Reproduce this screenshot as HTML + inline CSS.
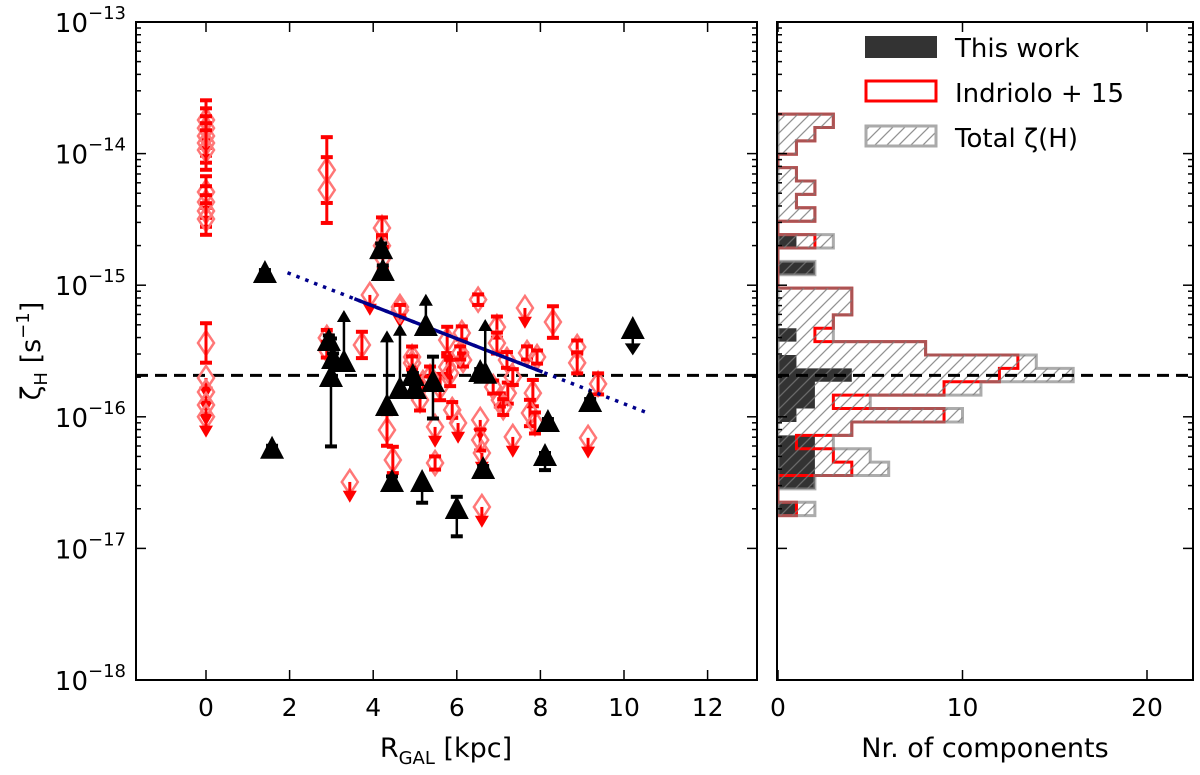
<!DOCTYPE html>
<html><head><meta charset="utf-8"><style>
body{margin:0;background:#fff;}
svg{display:block;font-family:"DejaVu Sans","Liberation Sans",sans-serif;}
</style></head><body>
<svg id="c" width="1200" height="775" viewBox="0 0 1200 775" xmlns="http://www.w3.org/2000/svg">
<defs>
<pattern id="hatch" patternUnits="userSpaceOnUse" width="12" height="12">
<path d="M-3,3 l6,-6 M0,12 l12,-12 M9,15 l6,-6" stroke="#777" stroke-width="1.3" opacity="0.8"/>
</pattern>
</defs>
<g id="left"></g>
<g id="right"></g>
</svg>
<script>
// ---- data ----
const redR=[0,0,0,0,0,0,0,0,0,0,0,0,0,0,2.89,2.89,2.89,2.89,3.73,3.44,4.21,4.21,4.23,3.92,4.64,6.51,7.63,8.30,8.88,8.88,9.38,9.14,6.96,6.96,6.12,4.64,4.93,5.77,5.89,6.03,5.48,5.48,4.33,4.47,6.56,6.56,6.60,6.60,7.20,7.22,7.34,7.34,7.68,7.92,7.82,7.75,7.87,5.77,5.60,5.84,6.15,6.87,7.03,7.11,6.08,5.19,4.93,5.36,5.12];
const redL=[-13.745,-13.806,-13.866,-13.919,-13.973,-14.292,-14.368,-14.436,-14.497,-15.439,-15.705,-15.812,-15.91,-16.0,-14.125,-14.277,-15.40,-15.49,-15.454,-16.495,-14.565,-14.70,-14.79,-15.074,-15.166,-15.11,-15.173,-15.28,-15.47,-15.59,-15.75,-16.16,-15.318,-15.44,-15.363,-15.19,-15.546,-15.416,-15.948,-16.047,-16.077,-16.351,-16.10,-16.328,-16.024,-16.176,-16.275,-16.685,-15.568,-15.82,-16.153,-15.698,-15.515,-15.546,-15.82,-15.971,-16.047,-15.622,-15.774,-15.667,-15.568,-15.774,-15.872,-15.926,-15.515,-15.743,-15.591,-15.698,-15.872];
const redErr=[0.15,0.15,0.15,0.15,0.15,0.12,0.12,0.12,0.12,0.15,0,0,0,0,0.25,0.25,0.06,0.06,0.1,0,0.08,0.08,0.08,0,0,0.04,0,0.12,0.05,0.08,0.08,0,0.08,0.08,0.05,0.04,0.08,0.1,0.06,0,0,0.05,0.12,0.1,0,0.08,0,0,0.06,0.08,0,0.06,0.05,0.05,0.1,0.1,0.08,0.08,0.1,0.1,0.05,0.05,0.05,0.06,0.05,0.05,0.05,0.08,0.08];
const redUL=[0,0,0,0,0,0,0,0,0,0,1,1,1,1,0,0,0,0,0,1,0,0,0,1,1,0,1,0,0,0,0,1,0,0,0,0,0,0,0,1,1,0,0,0,1,0,1,1,0,0,1,0,0,0,0,0,0,0,0,0,0,0,0,0,0,0,0,0,0];
const blkR=[1.41,1.58,2.94,3.04,2.99,3.30,4.19,4.23,5.26,4.33,4.64,4.95,5.0,4.45,5.17,5.43,6.56,6.68,6.63,6.0,8.18,8.11,9.19,10.21];
const blkL=[-14.915,-16.25,-15.432,-15.568,-15.705,-15.591,-14.733,-14.90,-15.318,-15.926,-15.796,-15.698,-15.796,-16.503,-16.503,-15.743,-15.667,-15.68,-16.404,-16.708,-16.047,-16.305,-15.895,-15.34];
const blkUp=[0.03,0.03,0.05,0.05,0.3,0,0.05,0.05,0,0,0,0.03,0.03,0.05,0,0.2,0.03,0,0.03,0.1,0.03,0.03,0.03,0];
const blkDn=[0.03,0.03,0.05,0.05,0.52,0,0.05,0.05,0,0,0,0.03,0.03,0.05,0.15,0.27,0.03,0,0.03,0.2,0.03,0.1,0.03,0];
const blkLo=[0,0,0,0,0,0.38,0,0,0.23,0.56,0.48,0,0,0,0,0,0,0.4,0,0,0,0,0,0];
const blkUL=[0,0,0,0,0,0,0,0,0,0,0,0,0,0,0,0,0,0,0,0,0,0,0,0.17];
const fitSlope=-0.1237, fitIntercept=-14.664;
const fitSolid=[3.55,8.05], fitDotted=[1.95,10.5];
const refLevel=-15.685;
const binTop=-13.70, binStep=0.1017;
const histTotal=[3,2,1,0,1,2,1,2,0,3,0,2,0,4,4,3,3,8,14,16,11,5,10,4,3,5,6,2,0,2];
const histIndriolo=[3,2,1,0,1,2,1,2,0,2,0,0,0,4,4,3,2,8,13,12,9,3,9,4,1,3,4,0,0,1];
const histThis=[0,0,0,0,0,0,0,0,0,1,0,2,0,0,0,0,1,0,1,4,2,2,1,0,2,2,2,2,0,1];
const xTicksL=[0,2,4,6,8,10,12];
const xTicksR=[0,10,20];
const yDecades=[-13,-14,-15,-16,-17,-18];

// ---- scales ----
const NS="http://www.w3.org/2000/svg";
const L0=136,L1=757,R0=777,R1=1193,T=22,B=680;
const X=r=>206+r*41.8;
const Y=l=>T+(-13-l)*131.6;
const XH=n=>778+n*18.45;
function mk(par,tag,at){const e=document.createElementNS(NS,tag);for(const k in at)e.setAttribute(k,at[k]);par.appendChild(e);return e;}
const gl=document.getElementById('left'), gr=document.getElementById('right');

// ---- left panel ----
const refL=mk(gl,'line',{x1:L0,x2:L1,y1:Y(refLevel),y2:Y(refLevel),stroke:'#000','stroke-width':3,'stroke-dasharray':'12,7'});


for(let i=0;i<redR.length;i++){
  const g=mk(gl,'g',{});
  
  
  const x=X(redR[i]),y=Y(redL[i]);
  mk(g,'path',{d:`M${x},${y-12}L${x+8},${y}L${x},${y+12}L${x-8},${y}Z`,fill:'none',stroke:'#f77','stroke-width':2.5});
  if(redUL[i]){
    const y2=Y(redL[i]-0.12);
    mk(g,'line',{x1:x,x2:x,y1:y,y2:y2,stroke:'#f00','stroke-width':3});
    mk(g,'path',{d:`M${x-7},${y2-7}L${x+7},${y2-7}L${x},${y2+5}Z`,fill:'#f00'});
  } else if(redErr[i]>0){
    const ya=Y(redL[i]+redErr[i]),yb=Y(redL[i]-redErr[i]);
    mk(g,'line',{x1:x,x2:x,y1:ya,y2:yb,stroke:'#f00','stroke-width':3});
    mk(g,'line',{x1:x-6,x2:x+6,y1:ya,y2:ya,stroke:'#f00','stroke-width':4});
    mk(g,'line',{x1:x-6,x2:x+6,y1:yb,y2:yb,stroke:'#f00','stroke-width':4});
  }
}
const fd=mk(gl,'line',{x1:X(fitDotted[0]),y1:Y(fitIntercept+fitSlope*fitDotted[0]),x2:X(fitDotted[1]),y2:Y(fitIntercept+fitSlope*fitDotted[1]),stroke:'#00008b','stroke-width':3.5,'stroke-dasharray':'3.5,6'});


const fs=mk(gl,'line',{x1:X(fitSolid[0]),y1:Y(fitIntercept+fitSlope*fitSolid[0]),x2:X(fitSolid[1]),y2:Y(fitIntercept+fitSlope*fitSolid[1]),stroke:'#00008b','stroke-width':3.5});


for(let i=0;i<blkR.length;i++){
  const g=mk(gl,'g',{});
  
  
  const x=X(blkR[i]),y=Y(blkL[i]);
  if(blkUp[i]>0||blkDn[i]>0){
    const ya=Y(blkL[i]+blkUp[i]),yb=Y(blkL[i]-blkDn[i]);
    mk(g,'line',{x1:x,x2:x,y1:ya,y2:yb,stroke:'#000','stroke-width':2.5});
    mk(g,'line',{x1:x-6,x2:x+6,y1:ya,y2:ya,stroke:'#000','stroke-width':4});
    mk(g,'line',{x1:x-6,x2:x+6,y1:yb,y2:yb,stroke:'#000','stroke-width':4});
  }
  if(blkLo[i]>0){
    const y2=Y(blkL[i]+blkLo[i]);
    mk(g,'line',{x1:x,x2:x,y1:y,y2:y2+6,stroke:'#000','stroke-width':2.5});
    mk(g,'path',{d:`M${x-7},${y2+9}L${x+7},${y2+9}L${x},${y2-3}Z`,fill:'#000'});
  }
  if(blkUL[i]>0){
    const y2=Y(blkL[i]-blkUL[i]);
    mk(g,'line',{x1:x,x2:x,y1:y,y2:y2-6,stroke:'#000','stroke-width':2.5});
    mk(g,'path',{d:`M${x-8},${y2-9}L${x+8},${y2-9}L${x},${y2+3}Z`,fill:'#000'});
  }
  mk(g,'path',{d:`M${x},${y-14}L${x+12},${y+9}L${x-12},${y+9}Z`,fill:'#000'});
}
function frame(g,x0,x1){
  const r=mk(g,'rect',{x:x0,y:T,width:x1-x0,height:B-T,fill:'none',stroke:'#000','stroke-width':2});
  
  
  for(const d of yDecades){
    for(let m=1;m<10;m++){
      const l=d+Math.log10(m); if(d===-18&&m>1)continue; if(l>-13)continue;
      const len=m===1?10:5,y=Y(l);
      mk(g,'line',{x1:x0,x2:x0+len,y1:y,y2:y,stroke:'#000','stroke-width':1.5});
      mk(g,'line',{x1:x1,x2:x1-len,y1:y,y2:y,stroke:'#000','stroke-width':1.5});
    }
  }
}
frame(gl,L0,L1);
for(const t of xTicksL){
  const x=X(t);
  mk(gl,'line',{x1:x,x2:x,y1:B,y2:B-10,stroke:'#000','stroke-width':1.5});
  mk(gl,'line',{x1:x,x2:x,y1:T,y2:T+10,stroke:'#000','stroke-width':1.5});
  const tx=mk(gl,'text',{x:x,y:716,'font-size':25,'text-anchor':'middle'});
  tx.textContent=t;
  
  
}
for(const d of yDecades){
  const tx=mk(gl,'text',{x:126,y:Y(d)+10,'font-size':26,'text-anchor':'end'});
  tx.innerHTML='10<tspan dy="-13" font-size="18">−'+(-d)+'</tspan>';
  
  
}
const xl=mk(gl,'text',{x:446,y:757,'font-size':27,'text-anchor':'middle'});
xl.innerHTML='R<tspan font-size="18" dy="7">GAL</tspan><tspan dy="-7"> [kpc]</tspan>';


const yl=mk(gl,'text',{x:0,y:0,'font-size':27,'text-anchor':'middle',transform:'translate(40,351) rotate(-90)'});
yl.innerHTML='ζ<tspan font-size="18" dy="7">H</tspan><tspan dy="-7"> [s</tspan><tspan font-size="18" dy="-11">−1</tspan><tspan dy="11">]</tspan>';



// ---- right panel ----
function stepPath(counts){
  let d=`M${XH(0)},${Y(binTop)}`;
  for(let k=0;k<counts.length;k++){
    const ya=Y(binTop-k*binStep),yb=Y(binTop-(k+1)*binStep);
    d+=`L${XH(counts[k])},${ya}L${XH(counts[k])},${yb}`;
  }
  return d+`L${XH(0)},${Y(binTop-counts.length*binStep)}`;
}
const hThis=mk(gr,'path',{d:stepPath(histThis)+'Z',fill:'#333',stroke:'none'});


const hInd=mk(gr,'path',{d:stepPath(histIndriolo),fill:'none',stroke:'#f00','stroke-width':3});


const hTot=mk(gr,'path',{d:stepPath(histTotal)+'Z',fill:'url(#hatch)',stroke:'rgba(128,128,128,0.65)','stroke-width':3});


const refR=mk(gr,'line',{x1:R0,x2:R1,y1:Y(refLevel),y2:Y(refLevel),stroke:'#000','stroke-width':3,'stroke-dasharray':'12,7'});


frame(gr,R0,R1);
for(const t of xTicksR){
  const x=XH(t);
  mk(gr,'line',{x1:x,x2:x,y1:B,y2:B-10,stroke:'#000','stroke-width':1.5});
  mk(gr,'line',{x1:x,x2:x,y1:T,y2:T+10,stroke:'#000','stroke-width':1.5});
  const tx=mk(gr,'text',{x:x,y:716,'font-size':25,'text-anchor':'middle'});
  tx.textContent=t;
  
  
}
const hxl=mk(gr,'text',{x:985,y:757,'font-size':27,'text-anchor':'middle'});
hxl.textContent='Nr.  of components';


const lg=mk(gr,'g',{});


const e1=mk(lg,'rect',{x:865,y:36,width:72,height:22,fill:'#333'});


const e2=mk(lg,'rect',{x:866,y:81,width:70,height:20,fill:'none',stroke:'#f00','stroke-width':3});


const e3=mk(lg,'rect',{x:866,y:126,width:70,height:20,fill:'url(#hatch)',stroke:'#aaa','stroke-width':3});


const labs=['This work','Indriolo + 15','Total ζ(H)'];
for(let i=0;i<3;i++){
  const t=mk(lg,'text',{x:955,y:57+i*45,'font-size':26});
  t.textContent=labs[i];
  
  
}
</script>
</body></html>
